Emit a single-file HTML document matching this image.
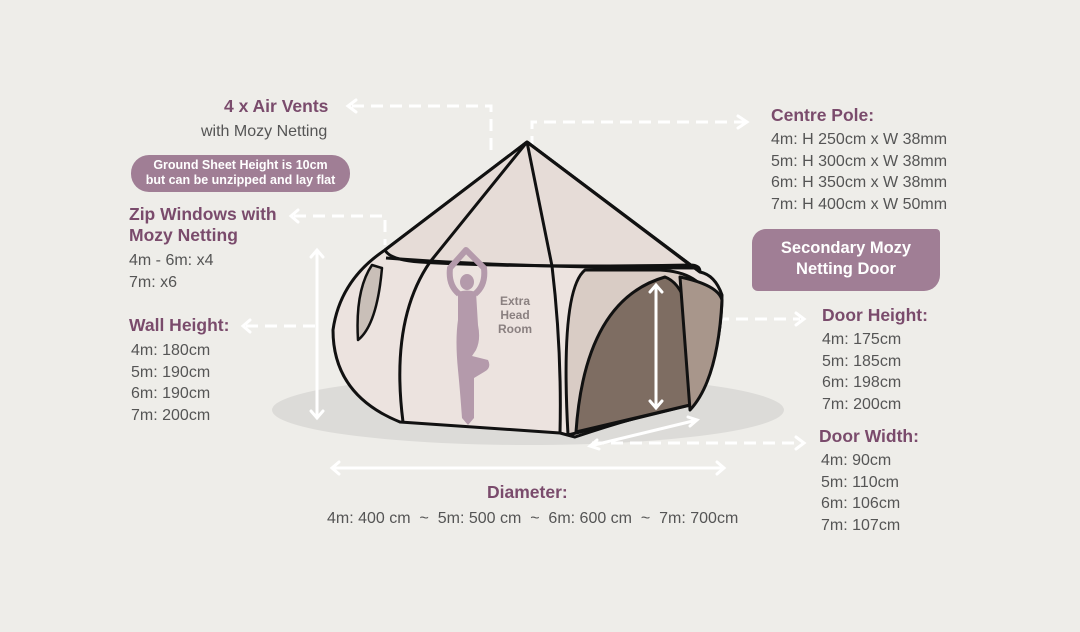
<!DOCTYPE html>
<html><head><meta charset="utf-8"><style>
body{margin:0;width:1080px;height:632px;background:#eeede9;overflow:hidden;position:relative;font-family:"Liberation Sans",sans-serif}
.t{position:absolute;white-space:nowrap}
.h{color:#7a4b6c;font-weight:bold;font-size:17.5px}
.g{color:#555;font-size:16px;line-height:21.5px}
</style></head><body>
<svg width="1080" height="632" style="position:absolute;left:0;top:0">
<ellipse cx="528" cy="410" rx="256" ry="35" fill="#dcdbd8"/>
<g stroke="#fff" stroke-width="3" fill="none" stroke-dasharray="12,7">
<path d="M352 106 H491 V150"/>
<path d="M532 148 V122 H745"/>
<path d="M294 216 H385 V245"/>
<path d="M246 326 H318"/>
<path d="M660 319 H800"/>
<path d="M592 443 H800"/>
</g>
<g stroke="#fff" stroke-width="3" fill="none" stroke-linecap="round">
<path d="M356 100 L348 106 L356 112"/><path d="M738 116 L747 122 L738 128"/>
<path d="M298 210 L291 216 L298 222"/><path d="M250 320 L243 326 L250 332"/>
<path d="M796 313 L804 319 L796 325"/><path d="M796 437 L804 443 L796 449"/>
<path d="M317 250 V418 M311 257 L317 250 L323 257 M311 411 L317 418 L323 411"/>
<path d="M332 468 H724 M339 462 L332 468 L339 474 M717 462 L724 468 L717 474"/>
</g>
<g stroke="#111" stroke-width="3" stroke-linejoin="round" fill="none">
<path d="M527 142 L385 250 Q340 280 333 330 Q333 395 400 422 L560 433 L575 437 Q640 415 690 405 L705 385 Q722 340 722 295 Q715 275 700 272 Z" fill="#ece3df"/>
<path d="M527 142 L385 250 Q390 260 420 262 Q520 268 690 265 Q700 265 700 272 Z" fill="#e6dcd7"/>
<path d="M527 142 L430 262 M527 142 L552 266 M527 142 L690 265"/>
<path d="M386 258 Q520 268 700 268"/>
<path d="M430 262 Q390 320 403 422 M552 266 Q562 350 560 433"/>
<path d="M585 270 Q560 290 568 435 L690 405 L710 300 Q700 272 660 270 Z" fill="#d9ccc5"/>
<path d="M576 432 Q585 300 665 277 Q700 290 690 405 Z" fill="#7e6d62"/>
<path d="M680 277 Q718 285 722 300 Q718 380 690 410 Z" fill="#a8968b"/>
<path d="M372 265 Q355 290 358 340 Q377 325 382 268 Z" fill="#c9bfb8" stroke-width="2.5"/>
</g>
<g fill="#b49aab">
<ellipse cx="467" cy="282" rx="7" ry="8"/>
<path d="M458 292 Q467 289 476 292 L478 325 Q481 340 476 350 L472 356 L488 360 Q492 368 484 372 L474 378 L474 418 L468 425 L462 418 Q460 390 458 370 Q455 340 458 320 Z"/>
</g>
<path d="M459 294 Q448 285 450 268 L466 250 L484 268 Q486 285 475 294" stroke="#b49aab" stroke-width="6" fill="none" stroke-linejoin="round"/>
<g stroke="#fff" stroke-width="3" fill="none" stroke-linecap="round">
<path d="M656 285 V408 M650 292 L656 285 L662 292 M650 401 L656 408 L662 401"/>
<path d="M590 446 L697 420 M597 440 L590 446 L599 449 M688 417 L697 420 L690 426"/>
</g>
<div></div>
</svg>
<div class="t" style="left:498px;top:294px;color:#8a8080;font-size:12px;font-weight:bold;text-align:center;line-height:14px">Extra<br>Head<br>Room</div>
<div class="t h" style="left:224px;top:96px">4 x Air Vents</div>
<div class="t g" style="left:201px;top:121px">with Mozy Netting</div>
<div class="t" style="left:131px;top:155px;width:219px;height:37px;border-radius:18px;background:#a07e95;color:#fff;font-size:12.5px;font-weight:bold;text-align:center;line-height:15px;padding-top:3px;box-sizing:border-box">Ground Sheet Height is 10cm<br>but can be unzipped and lay flat</div>
<div class="t h" style="left:129px;top:204px;line-height:21px">Zip Windows with<br>Mozy Netting</div>
<div class="t g" style="left:129px;top:250px">4m - 6m: x4<br>7m: x6</div>
<div class="t h" style="left:129px;top:315px">Wall Height:</div>
<div class="t g" style="left:131px;top:340px">4m: 180cm<br>5m: 190cm<br>6m: 190cm<br>7m: 200cm</div>
<div class="t h" style="left:771px;top:105px">Centre Pole:</div>
<div class="t g" style="left:771px;top:129px">4m: H 250cm x W 38mm<br>5m: H 300cm x W 38mm<br>6m: H 350cm x W 38mm<br>7m: H 400cm x W 50mm</div>
<div class="t" style="left:752px;top:229px;width:188px;height:62px;background:#a07e95;border-radius:14px 4px 16px 6px;color:#fff;font-weight:bold;font-size:16.5px;text-align:center;line-height:21px;padding-top:9px;box-sizing:border-box">Secondary Mozy<br>Netting Door</div>
<div class="t h" style="left:822px;top:305px">Door Height:</div>
<div class="t g" style="left:822px;top:329px">4m: 175cm<br>5m: 185cm<br>6m: 198cm<br>7m: 200cm</div>
<div class="t h" style="left:819px;top:426px">Door Width:</div>
<div class="t g" style="left:821px;top:450px">4m: 90cm<br>5m: 110cm<br>6m: 106cm<br>7m: 107cm</div>
<div class="t h" style="left:487px;top:482px">Diameter:</div>
<div class="t g" style="left:327px;top:508px">4m: 400 cm &nbsp;~&nbsp; 5m: 500 cm &nbsp;~&nbsp; 6m: 600 cm &nbsp;~&nbsp; 7m: 700cm</div>
</body></html>
